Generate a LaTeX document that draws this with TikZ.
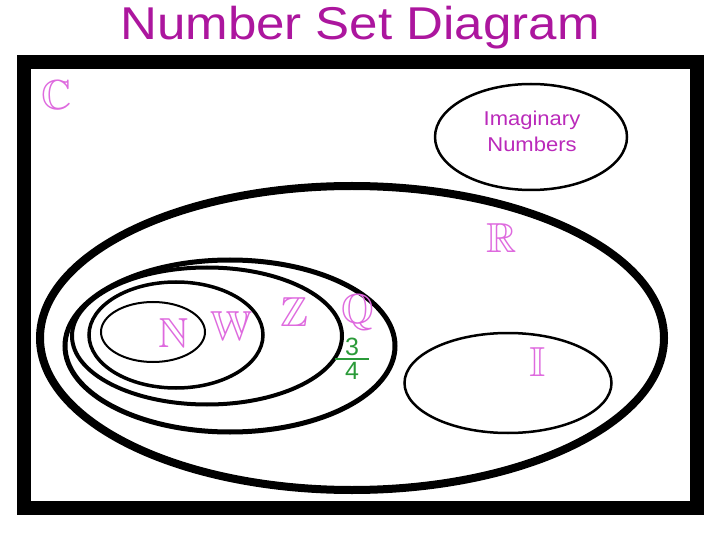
\documentclass[tikz,border=0pt]{standalone}
\usepackage{amsmath,amssymb}
\usepackage{fontspec}
\setmainfont{Liberation Sans}
\usetikzlibrary{shapes.geometric}
\definecolor{titlemag}{HTML}{AC169E}
\definecolor{setpink}{HTML}{DE6ADE}
\definecolor{imagmag}{HTML}{BA2ABA}
\definecolor{fracgreen}{HTML}{2A9A38}
\begin{document}
\begin{tikzpicture}[x=1pt, y=-1pt,
    set/.style={draw, ellipse, inner sep=0pt},
    setname/.style={text=setpink, inner sep=0pt, font=\fontsize{42}{42}\selectfont},
    imagtext/.style={text=imagmag, align=center, inner sep=0pt, xscale=1.1, font=\fontsize{20}{26}\selectfont}
  ]
    \useasboundingbox (0,0) rectangle (720,537);
    \node[text=titlemag, anchor=base, xscale=1.11, font=\fontsize{46}{46}\selectfont] (title) at (360,40) {Number Set Diagram};
    \node[draw, line width=14pt, minimum width=673pt, minimum height=446pt, inner sep=0pt] (C) at (360.5,285) {};
    \node[setname] (Clabel) at (57,95) {$\mathbb{C}$};
    \node[set, line width=2.5pt, minimum width=192pt, minimum height=106pt] (imag) at (531,137) {};
    \node[imagtext] (imaglabel) at (532,131) {Imaginary\\Numbers};
    \node[set, line width=8pt, minimum width=624pt, minimum height=304pt] (R) at (352,338) {};
    \node[setname] (Rlabel) at (502,238) {$\mathbb{R}$};
    \node[set, line width=5pt, minimum width=330pt, minimum height=172pt] (Q) at (230,346) {};
    \node[setname] (Qlabel) at (358,313) {$\mathbb{Q}$};
    \node[set, line width=4pt, minimum width=270pt, minimum height=137pt] (Z) at (207,336) {};
    \node[setname] (Zlabel) at (294,312) {$\mathbb{Z}$};
    \node[set, line width=3.5pt, minimum width=174pt, minimum height=106pt] (W) at (176,335) {};
    \node[setname] (Wlabel) at (231,326) {$\mathbb{W}$};
    \node[set, line width=2pt, minimum width=104pt, minimum height=60pt] (N) at (153,332) {};
    \node[setname] (Nlabel) at (174,333) {$\mathbb{N}$};
    \node[set, line width=2.5pt, minimum width=207pt, minimum height=100pt] (I) at (508,383) {};
    \node[setname] (Ilabel) at (538,362) {$\mathbb{I}$};
    \node[text=fracgreen, inner sep=0pt, font=\fontsize{25}{25}\selectfont] (frac) at (352,359)
      {$\genfrac{}{}{2pt}{1}{\makebox[34pt]{3}}{\makebox[34pt]{4}}$};
  \end{tikzpicture}
\end{document}
